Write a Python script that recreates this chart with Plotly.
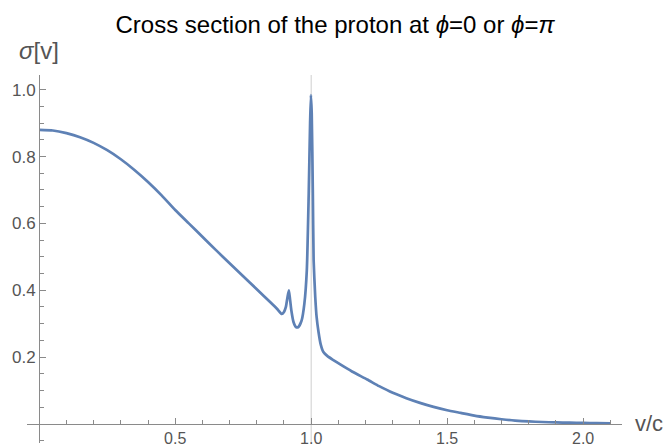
import plotly.graph_objects as go

# ---- data ----
v_c = [0.0, 0.05, 0.1, 0.15, 0.2, 0.25, 0.3, 0.35, 0.4, 0.45, 0.5, 0.55, 0.6, 0.65,
       0.7, 0.75, 0.8, 0.85, 0.875, 0.892, 0.9, 0.907, 0.913, 0.918, 0.922, 0.927,
       0.935, 0.944, 0.953, 0.965, 0.975, 0.984, 0.991, 0.996, 0.999, 1.002, 1.006,
       1.009, 1.015, 1.02, 1.027, 1.035, 1.045, 1.06, 1.08, 1.107, 1.15, 1.206, 1.25,
       1.3, 1.35, 1.4, 1.45, 1.5, 1.55, 1.6, 1.65, 1.7, 1.75, 1.8, 1.85, 1.9, 1.95,
       2.0, 2.05, 2.1]
sigma = [0.880, 0.878, 0.870, 0.858, 0.841, 0.819, 0.792, 0.760, 0.724, 0.684, 0.640,
         0.600, 0.560, 0.520, 0.481, 0.442, 0.403, 0.364, 0.344, 0.329, 0.335, 0.350,
         0.380, 0.400, 0.375, 0.340, 0.305, 0.290, 0.290, 0.310, 0.360, 0.460, 0.690,
         0.900, 0.984, 0.930, 0.700, 0.490, 0.380, 0.320, 0.275, 0.238, 0.215, 0.203,
         0.192, 0.178, 0.157, 0.133, 0.113, 0.093, 0.077, 0.063, 0.051, 0.041, 0.033,
         0.025, 0.019, 0.014, 0.010, 0.0075, 0.0058, 0.0045, 0.0037, 0.003, 0.0025,
         0.002]

x_major = [0.5, 1.0, 1.5, 2.0]
x_major_text = ["0.5", "1.0", "1.5", "2.0"]
x_minor = [0.1, 0.2, 0.3, 0.4, 0.6, 0.7, 0.8, 0.9, 1.1, 1.2, 1.3, 1.4, 1.6, 1.7, 1.8, 1.9, 2.1]
y_major = [0.2, 0.4, 0.6, 0.8, 1.0]
y_major_text = ["0.2", "0.4", "0.6", "0.8", "1.0"]
y_minor = [-0.05, 0.05, 0.1, 0.15, 0.25, 0.3, 0.35, 0.45, 0.5, 0.55, 0.65, 0.7, 0.75,
           0.85, 0.9, 0.95]

x_range = [-0.045, 2.143]
y_range = [-0.057, 1.044]

axis_col = "#8a8a8a"
label_col = "#555555"
font_fam = "Liberation Sans, Arial, sans-serif"

fig = go.Figure()
fig.add_trace(go.Scatter(x=v_c, y=sigma, mode="lines",
                         line=dict(color="#5E81B5", width=2.7, shape="spline", smoothing=0.5),
                         hoverinfo="skip"))

# vertical reference line at v/c = 1
fig.add_shape(type="line", xref="x", yref="paper", x0=1.0, x1=1.0, y0=0, y1=1,
              line=dict(color="#cfcfcf", width=1), layer="below")

fig.update_layout(
    width=666, height=448,
    margin=dict(l=27, r=44, t=75, b=5),
    plot_bgcolor="white", paper_bgcolor="white",
    showlegend=False,
    font=dict(family=font_fam, color=label_col),
    title=dict(text="Cross section of the proton at <i>ϕ</i>=0 or <i>ϕ</i>=<i>π</i>",
               x=0.503, xanchor="center", y=0.944, yanchor="middle",
               font=dict(size=24, color="black", family=font_fam)),
    xaxis=dict(range=x_range, anchor="free", automargin=False,
               position=(0 - y_range[0]) / (y_range[1] - y_range[0]),
               showline=True, linecolor=axis_col, linewidth=1.3,
               showgrid=False, zeroline=False,
               tickmode="array", tickvals=x_major, ticktext=x_major_text,
               ticks="inside", ticklen=6, tickcolor=axis_col, tickwidth=1,
               tickfont=dict(size=16, color=label_col),
               minor=dict(tickmode="array", tickvals=x_minor, ticks="inside",
                          ticklen=3.5, tickcolor=axis_col, showgrid=False)),
    yaxis=dict(range=y_range, anchor="free", automargin=False,
               position=(0 - x_range[0]) / (x_range[1] - x_range[0]),
               showline=True, linecolor=axis_col, linewidth=1.3,
               showgrid=False, zeroline=False,
               tickmode="array", tickvals=y_major, ticktext=y_major_text,
               ticks="inside", ticklen=6, tickcolor=axis_col, tickwidth=1,
               tickfont=dict(size=17, color=label_col),
               minor=dict(tickmode="array", tickvals=y_minor, ticks="inside",
                          ticklen=3.5, tickcolor=axis_col, showgrid=False)),
)

fig.add_annotation(text="<i>σ</i>[v]", xref="paper", yref="paper", x=-0.017, y=1.0,
                   xanchor="left", yanchor="middle", yshift=25, showarrow=False,
                   font=dict(size=24, color=label_col, family=font_fam))
fig.add_annotation(text="v/c", xref="paper", yref="y", x=1.0, y=0,
                   xanchor="left", yanchor="middle", xshift=11, showarrow=False,
                   font=dict(size=22, color=label_col, family=font_fam))

fig.write_html("out.html", config={"displayModeBar": False},
               post_script="document.body.style.margin='0';document.body.style.overflow='hidden';")
